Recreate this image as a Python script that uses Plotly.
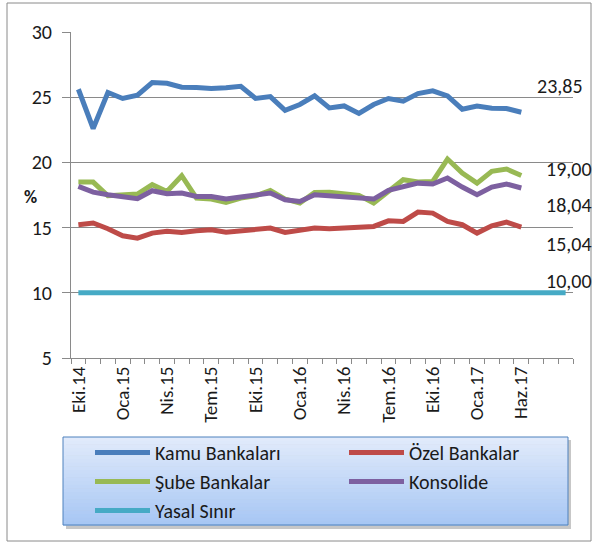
import plotly.graph_objects as go

# ── Data ──────────────────────────────────────────────────────────────────────
PERIODS = [
    "Eki.14", "Kas.14", "Ara.14", "Oca.15", "Şub.15", "Mar.15", "Nis.15", "May.15",
    "Haz.15", "Tem.15", "Ağu.15", "Eyl.15", "Eki.15", "Kas.15", "Ara.15", "Oca.16",
    "Şub.16", "Mar.16", "Nis.16", "May.16", "Haz.16", "Tem.16", "Ağu.16", "Eyl.16",
    "Eki.16", "Kas.16", "Ara.16", "Oca.17", "Mar.17", "May.17", "Haz.17",
    "Tem.17", "Ağu.17", "Eyl.17",
]
TICK_LABELS = [
    "Eki.14", "", "", "Oca.15", "", "", "Nis.15", "", "", "Tem.15", "", "",
    "Eki.15", "", "", "Oca.16", "", "", "Nis.16", "", "", "Tem.16", "", "",
    "Eki.16", "", "", "Oca.17", "", "", "Haz.17", "", "", "",
]

KAMU = [25.61, 22.60, 25.36, 24.90, 25.15, 26.12, 26.07, 25.77, 25.74, 25.66, 25.72,
        25.84, 24.90, 25.05, 24.00, 24.44, 25.10, 24.18, 24.33, 23.75, 24.44, 24.90,
        24.70, 25.28, 25.49, 25.10, 24.08, 24.33, 24.16, 24.13, 23.85]
OZEL = [15.22, 15.35, 14.91, 14.37, 14.19, 14.58, 14.71, 14.63, 14.76, 14.83, 14.65,
        14.76, 14.88, 14.96, 14.63, 14.76, 14.96, 14.91, 14.96, 15.01, 15.09, 15.52,
        15.47, 16.19, 16.11, 15.47, 15.22, 14.58, 15.14, 15.42, 15.04]
SUBE = [18.49, 18.49, 17.44, 17.52, 17.57, 18.29, 17.77, 18.98, 17.26, 17.19, 16.93,
        17.26, 17.44, 17.85, 17.19, 16.88, 17.70, 17.72, 17.60, 17.47, 16.88, 17.77,
        18.67, 18.49, 18.54, 20.26, 19.18, 18.41, 19.31, 19.49, 19.00]
KONSOLIDE = [18.16, 17.72, 17.52, 17.34, 17.21, 17.83, 17.60, 17.65, 17.39, 17.39, 17.19,
             17.34, 17.47, 17.65, 17.13, 17.00, 17.52, 17.44, 17.39, 17.34, 17.19, 17.85,
             18.16, 18.41, 18.34, 18.80, 18.11, 17.52, 18.11, 18.34, 18.04]
YASAL = [10.00, 10.00, 10.00, 10.00, 10.00, 10.00, 10.00, 10.00, 10.00, 10.00, 10.00,
         10.00, 10.00, 10.00, 10.00, 10.00, 10.00, 10.00, 10.00, 10.00, 10.00, 10.00,
         10.00, 10.00, 10.00, 10.00, 10.00, 10.00, 10.00, 10.00, 10.00, 10.00, 10.00,
         10.00]

# ── Style ─────────────────────────────────────────────────────────────────────
FONT = "Carlito, Lato, sans-serif"
TEXT = "#1a1a1a"
GRID = "#8a8a8a"
W, H = 598, 546
L, R, T, B = 71, 573, 32, 358  # plot area in pixels

# name, values, colour, legend column
SERIES = [
    ("Kamu Bankaları", KAMU, "#4A7EBB", "legend"),
    ("Özel Bankalar", OZEL, "#BE4B48", "legend2"),
    ("Şube Bankalar", SUBE, "#98B954", "legend"),
    ("Konsolide", KONSOLIDE, "#7D60A0", "legend2"),
    ("Yasal Sınır", YASAL, "#46AAC5", "legend"),
]


def fx(p):
    return (p - L) / (R - L)


def fy(p):
    return (B - p) / (B - T)


fig = go.Figure()
for name, vals, color, leg in SERIES:
    fig.add_trace(go.Scatter(
        x=PERIODS[:len(vals)], y=vals, name=name, mode="lines",
        line=dict(color=color, width=5), legend=leg,
    ))

shapes = []
# outer frame
shapes.append(dict(type="rect", xref="paper", yref="paper", x0=fx(7), x1=fx(591),
                   y0=fy(3), y1=fy(541), line=dict(color=GRID, width=1), layer="below"))
# legend box: shadow, gradient fill, border
shapes.append(dict(type="rect", xref="paper", yref="paper", x0=fx(66), x1=fx(571),
                   y0=fy(440), y1=fy(529), line=dict(width=0),
                   fillcolor="rgba(0,0,0,0.22)", layer="below"))
top_c, bot_c = (226, 235, 251), (166, 198, 244)
n = 24
for k in range(n):
    t = (k + 0.5) / n
    c = tuple(round(a + (b - a) * t) for a, b in zip(top_c, bot_c))
    y0 = 437 + (525 - 437) * k / n
    y1 = 437 + (525 - 437) * (k + 1) / n
    shapes.append(dict(type="rect", xref="paper", yref="paper", x0=fx(63), x1=fx(568),
                       y0=fy(y0), y1=fy(y1 + 0.5), line=dict(width=0),
                       fillcolor="rgb(%d,%d,%d)" % c, layer="below"))
shapes.append(dict(type="rect", xref="paper", yref="paper", x0=fx(63), x1=fx(568),
                   y0=fy(437), y1=fy(525), line=dict(color="#4F81BD", width=1),
                   layer="below"))

annotations = [dict(text="<b>%</b>", xref="paper", yref="paper", x=fx(22), y=fy(197),
                    showarrow=False, font=dict(size=18, color=TEXT, family=FONT))]
# end-value labels
label_pos = {"Kamu Bankaları": (560, 86), "Şube Bankalar": (569, 169),
             "Konsolide": (569, 205), "Özel Bankalar": (569, 244),
             "Yasal Sınır": (569, 281)}
for name, vals, color, leg in SERIES:
    xp, yp = label_pos[name]
    annotations.append(dict(
        text=f"{vals[-1]:.2f}".replace(".", ","), xref="paper", yref="paper",
        x=fx(xp), y=fy(yp), showarrow=False, xanchor="center", yanchor="middle",
        font=dict(size=20, color=TEXT, family=FONT),
    ))

legend_style = dict(
    orientation="v", yanchor="top", xanchor="left", itemwidth=55,
    bgcolor="rgba(0,0,0,0)", font=dict(size=20, family=FONT, color=TEXT),
    traceorder="normal",
)

fig.update_layout(
    width=W, height=H,
    margin=dict(l=L, r=W - R, t=T, b=H - B, autoexpand=False),
    paper_bgcolor="white", plot_bgcolor="white",
    font=dict(family=FONT, color=TEXT, size=17),
    showlegend=True,
    legend=dict(x=fx(90), y=fy(433), **legend_style),
    legend2=dict(x=fx(344), y=fy(433), **legend_style),
    xaxis=dict(
        type="category", categoryorder="array", categoryarray=PERIODS,
        tickmode="array", tickvals=PERIODS, ticktext=TICK_LABELS,
        tickson="boundaries", ticks="outside", ticklen=5, tickcolor=GRID,
        tickangle=-90, showgrid=False, showline=True, linecolor=GRID,
        tickfont=dict(size=19, family=FONT, color=TEXT), range=[-0.5, len(PERIODS) - 0.5],
    ),
    yaxis=dict(
        range=[5, 30], dtick=5, tick0=5, showgrid=True, gridcolor=GRID, gridwidth=1,
        showline=True, linecolor=GRID, ticks="outside", ticklen=8, tickcolor=GRID,
        ticklabelstandoff=6,
        tickfont=dict(size=20, family=FONT, color=TEXT), zeroline=False,
    ),
    shapes=shapes,
    annotations=annotations,
)

fig.write_html("out.html", post_script="document.body.style.margin='0';",
               config={"displayModeBar": False})
